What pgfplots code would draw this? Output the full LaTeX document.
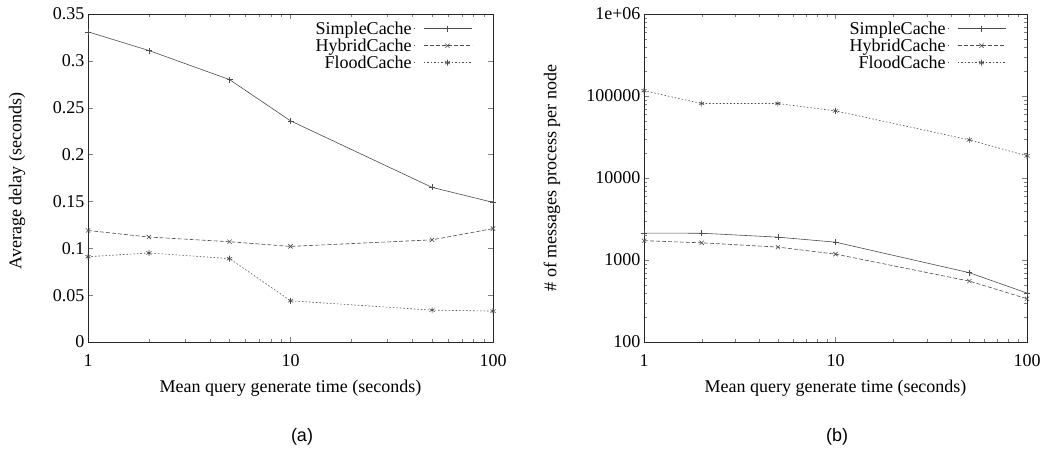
\documentclass[border=0pt]{standalone}
\usepackage{fontspec}
\setmainfont{Liberation Serif}
\newfontfamily\capfont{Liberation Sans}
\usepackage{pgfplots}
\pgfplotsset{compat=1.18}
\newcommand\lblfont{\fontsize{18}{20}\selectfont}

\begin{document}
\begin{tikzpicture}
\path[use as bounding box] (0,0) rectangle (1041pt,453pt);

% (a) average delay
\begin{axis}[
    scale only axis,
    at={(88pt,111pt)}, anchor=south west,
    width=405pt, height=328pt,
    xmode=log, xmin=1, xmax=100,
    xtick={1,10,100}, xticklabels={1,10,100},
    ymin=0, ymax=0.35,
    ytick={0,0.05,0.1,0.15,0.2,0.25,0.3,0.35},
    yticklabels={0,0.05,0.1,0.15,0.2,0.25,0.3,0.35},
    tick align=inside,
    major tick length=5pt, minor tick length=3pt,
    axis line style={black!85, line width=0.6pt},
    /pgf/number format/assume math mode=true,
    ticklabel style={font=\lblfont},
    xticklabel style={yshift=-9pt},
    xlabel={Mean query generate time (seconds)},
    ylabel={Average delay (seconds)},
    every axis x label/.style={at={(axis description cs:0.5,0)}, yshift=-46pt, anchor=center, font=\lblfont},
    every axis y label/.style={at={(axis description cs:0,0.5)}, xshift=-71pt, yshift=-3pt, rotate=90, anchor=center, font=\lblfont},
    legend plot pos=right,
    legend image code/.code={\path (0pt,0pt) -- (1pt,0pt);
      \draw[mark repeat=2,mark phase=2,#1] plot coordinates {(10pt,0pt) (34pt,0pt) (58pt,0pt)};},
    legend style={at={(1,1)}, anchor=north east, xshift=-18pt, yshift=-4pt,
      draw=none, fill=none, legend cell align=right,
      nodes={inner sep=1.5pt}, font=\lblfont},
]
\addplot[black!70, line width=0.6pt, solid, mark=+, mark size=3pt, mark options={solid}]
  coordinates {(1,0.331) (2,0.311) (5,0.280) (10,0.236) (50,0.165) (100,0.149)};
\addlegendentry{SimpleCache}
\addplot[black!70, line width=0.6pt, dash pattern=on 4pt off 2pt, mark=x, mark size=3pt, mark options={solid}]
  coordinates {(1,0.119) (2,0.112) (5,0.107) (10,0.102) (50,0.109) (100,0.121)};
\addlegendentry{HybridCache}
\addplot[black!70, line width=0.6pt, dash pattern=on 1.5pt off 2pt, mark=asterisk, mark size=3pt, mark options={solid}]
  coordinates {(1,0.091) (2,0.095) (5,0.089) (10,0.044) (50,0.034) (100,0.033)};
\addlegendentry{FloodCache}
\end{axis}

% (b) messages per node
\begin{axis}[
    scale only axis,
    at={(644pt,111pt)}, anchor=south west,
    width=383pt, height=328pt,
    xmode=log, xmin=1, xmax=100,
    xtick={1,10,100}, xticklabels={1,10,100},
    ymode=log, ymin=100, ymax=1000000,
    ytick={100,1000,10000,100000,1000000},
    yticklabels={100,1000,10000,100000,1e+06},
    tick align=inside,
    major tick length=5pt, minor tick length=3pt,
    axis line style={black!85, line width=0.6pt},
    /pgf/number format/assume math mode=true,
    ticklabel style={font=\lblfont},
    xticklabel style={yshift=-9pt},
    xlabel={Mean query generate time (seconds)},
    ylabel={\# of messages process per node},
    every axis x label/.style={at={(axis description cs:0.5,0)}, yshift=-46pt, anchor=center, font=\lblfont},
    every axis y label/.style={at={(axis description cs:0,0.5)}, xshift=-92pt, rotate=90, anchor=center, font=\lblfont},
    legend plot pos=right,
    legend image code/.code={\path (0pt,0pt) -- (1pt,0pt);
      \draw[mark repeat=2,mark phase=2,#1] plot coordinates {(10pt,0pt) (34pt,0pt) (58pt,0pt)};},
    legend style={at={(1,1)}, anchor=north east, xshift=-18pt, yshift=-4pt,
      draw=none, fill=none, legend cell align=right,
      nodes={inner sep=1.5pt}, font=\lblfont},
]
\addplot[black!70, line width=0.6pt, solid, mark=+, mark size=3pt, mark options={solid}]
  coordinates {(1,2130) (2,2120) (5,1900) (10,1650) (50,700) (100,395)};
\addlegendentry{SimpleCache}
\addplot[black!70, line width=0.6pt, dash pattern=on 4pt off 2pt, mark=x, mark size=3pt, mark options={solid}]
  coordinates {(1,1720) (2,1620) (5,1437) (10,1180) (50,553) (100,337)};
\addlegendentry{HybridCache}
\addplot[black!70, line width=0.6pt, dash pattern=on 1.5pt off 2pt, mark=asterisk, mark size=3pt, mark options={solid}]
  coordinates {(1,116000) (2,81000) (5,81000) (10,65800) (50,29200) (100,18600)};
\addlegendentry{FloodCache}
\end{axis}

\node[font=\capfont\lblfont] at (302pt,16pt) {(a)};
\node[font=\capfont\lblfont] at (837pt,16pt) {(b)};
\end{tikzpicture}
\end{document}
